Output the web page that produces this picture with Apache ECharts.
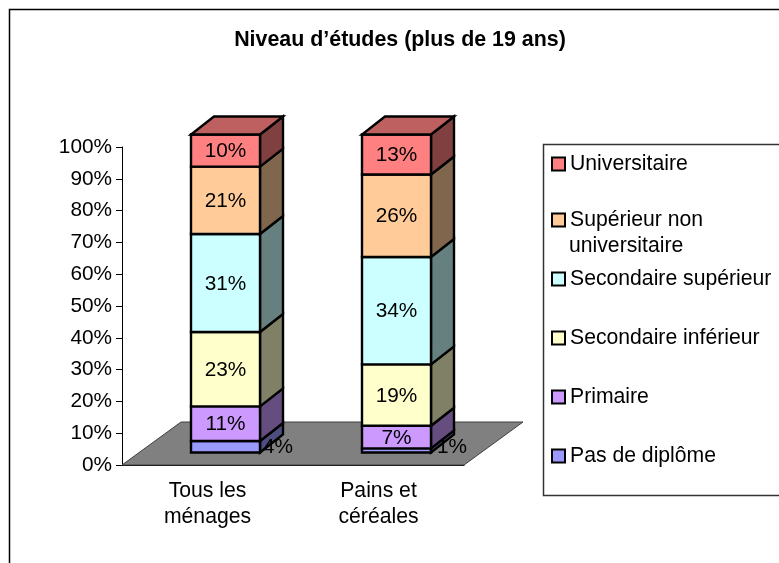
<!DOCTYPE html>
<html><head><meta charset="utf-8">
<style>html,body{margin:0;padding:0;background:#fff}#c{width:779px;height:563px}</style>
<script src="https://cdn.jsdelivr.net/npm/echarts@6/dist/echarts.min.js"></script>
</head><body><div id="c"></div>
<script>
const chartTitle = "Niveau d’études (plus de 19 ans)";
const categories = ["Tous les\nménages", "Pains et\ncéréales"];
const levels = ["Pas de diplôme", "Primaire", "Secondaire inférieur", "Secondaire supérieur", "Supérieur non\nuniversitaire", "Universitaire"];
const valuesPasDeDiplome = [3.6, 1.3];
const valuesPrimaire = [10.9, 7.1];
const valuesSecInferieur = [23.4, 19.3];
const valuesSecSuperieur = [30.8, 33.8];
const valuesSuperieurNonUniv = [21.2, 25.9];
const valuesUniversitaire = [10.1, 12.6];
const colors = ["#9999FF", "#CC99FF", "#FFFFCC", "#CCFFFF", "#FFCC99", "#FF8080"];

const allValues = [valuesPasDeDiplome, valuesPrimaire, valuesSecInferieur, valuesSecSuperieur, valuesSuperieurNonUniv, valuesUniversitaire];
const FONT = '"Liberation Sans", Arial, sans-serif';
const FS = 20.8, FS_WIDE = 21.2;
const DEPTH = 59, RISE = 43;        // floor depth in px
const BAR_DX = 23, BAR_DY = 18;     // bar depth in px
const BAR_RATIO = 69 / 171;

function shade(hex, k) {
  const n = parseInt(hex.slice(1), 16);
  return 'rgb(' + [(n >> 16) & 255, (n >> 8) & 255, n & 255].map(c => Math.round(c * k)).join(',') + ')';
}
const series = [];
series.push({
  type: 'custom', name: '__floor', silent: true, z: 1, coordinateSystem: 'cartesian2d', data: [[0, 0]],
  renderItem(params, api) {
    const p0 = api.coord([0, 0]), band = api.size([1, 0])[0];
    const l = p0[0] - band / 2, r = l + 2 * band, y = p0[1];
    return { type: 'polygon', shape: { points: [[l, y], [l + DEPTH, y - RISE], [r + DEPTH, y - RISE], [r, y]] },
      style: { fill: '#808080', stroke: '#404040', lineWidth: 1 } };
  }
});
allValues.forEach((vals, si) => {
  let data = vals.map((v, ci) => {
    let start = 0;
    for (let k = 0; k < si; k++) start += allValues[k][ci];
    return [ci, start, start + v, v];
  });
  series.push({
    type: 'custom', name: levels[si], coordinateSystem: 'cartesian2d', z: 3 + si, silent: true,
    itemStyle: { color: colors[si], borderColor: '#000', borderWidth: 2 },
    encode: { x: 0, y: [1, 2] }, data,
    renderItem(params, api) {
      const c = api.value(0), a = api.coord([c, api.value(1)]), b = api.coord([c, api.value(2)]);
      const band = api.size([1, 0])[0], w = band * BAR_RATIO;
      const ox = (DEPTH - BAR_DX) / 2, oy = (RISE - BAR_DY) / 2;
      const x0 = a[0] - w / 2 + ox, x1 = x0 + w, y0 = a[1] - oy, y1 = b[1] - oy;
      const st = (fill) => ({ fill, stroke: '#000', lineWidth: 2.4, lineJoin: 'miter' });
      const kids = [
        { type: 'polygon', shape: { points: [[x1, y0], [x1 + BAR_DX, y0 - BAR_DY], [x1 + BAR_DX, y1 - BAR_DY], [x1, y1]] }, style: st(shade(colors[si], 0.5)) },
        { type: 'polygon', shape: { points: [[x0, y0], [x1, y0], [x1, y1], [x0, y1]] }, style: st(colors[si]) }
      ];
      if (si === allValues.length - 1) {
        kids.push({ type: 'polygon', shape: { points: [[x0, y1], [x1, y1], [x1 + BAR_DX, y1 - BAR_DY], [x0 + BAR_DX, y1 - BAR_DY]] }, style: st(shade(colors[si], 0.75)) });
      }
      const v = api.value(3), small = v < 5;
      kids.push({ type: 'text', z2: 200, style: {
        text: Math.round(v) + '%', x: small ? x1 + (c === 0 ? 18 : 21) : (x0 + x1) / 2, y: small ? y0 - 5 : (y0 + y1) / 2 + 1,
        align: 'center', verticalAlign: 'middle', fill: '#000', font: FS + 'px ' + FONT } });
      return { type: 'group', children: kids };
    }
  });
});

const LEGEND_LEFT = 551, LEGEND_LINE = 26;
const legendCenters = [164, 220, 279, 338, 397, 456];
const legends = levels.slice().reverse().map((name, i) => ({
  show: true, orient: 'vertical', left: LEGEND_LEFT, top: legendCenters[i] - LEGEND_LINE / 2, padding: 0,
  data: [{ name }], selectedMode: false, icon: 'rect', itemWidth: 13, itemHeight: 13,
  formatter: n => n.split('\n')[0],
  itemStyle: { borderColor: '#000', borderWidth: 2 },
  textStyle: { fontFamily: FONT, fontSize: FS_WIDE, color: '#000', lineHeight: LEGEND_LINE }
}));
const legendContinuations = levels.slice().reverse().flatMap((name, i) => name.split('\n').slice(1).map((t, k) => ({
  type: 'text', silent: true, x: LEGEND_LEFT + 18, y: legendCenters[i] + (k + 1) * LEGEND_LINE,
  style: { text: t, fill: '#000', font: FS_WIDE + 'px ' + FONT, verticalAlign: 'middle', align: 'left' }
})));

const chart = echarts.init(document.getElementById('c'), null, { renderer: 'canvas' });
chart.setOption({
  animation: false,
  backgroundColor: '#fff',
  title: { text: chartTitle, left: 395, top: 25, textAlign: 'center',
    textStyle: { fontFamily: FONT, fontSize: 21.4, fontWeight: 'bold', color: '#000' } },
  grid: { left: 122, top: 147, right: 779 - 464, bottom: 563 - 465, containLabel: false },
  xAxis: { type: 'category', data: categories,
    axisLine: { lineStyle: { color: '#000', width: 1 } },
    axisTick: { alignWithLabel: false, length: 7, lineStyle: { color: '#000' } },
    axisLabel: { fontFamily: FONT, fontSize: FS_WIDE, color: '#000', lineHeight: 26, margin: 13, interval: 0 } },
  yAxis: { type: 'value', min: 0, max: 100, interval: 10,
    splitLine: { show: false },
    axisLine: { show: true, lineStyle: { color: '#000', width: 1 } },
    axisTick: { show: true, length: 6, lineStyle: { color: '#000' } },
    axisLabel: { formatter: '{value}%', fontFamily: FONT, fontSize: FS, color: '#000', margin: 10 } },
  legend: legends,
  graphic: [
    { type: 'rect', silent: true, z: -1, shape: { x: 9.5, y: 9.5, width: 800, height: 600 }, style: { fill: 'none', stroke: '#000', lineWidth: 1.5 } },
    { type: 'rect', silent: true, z: -1, shape: { x: 543.5, y: 144.5, width: 300, height: 351 }, style: { fill: 'none', stroke: '#333', lineWidth: 1.5 } }
  ].concat(legendContinuations),
  series
});
</script></body></html>
